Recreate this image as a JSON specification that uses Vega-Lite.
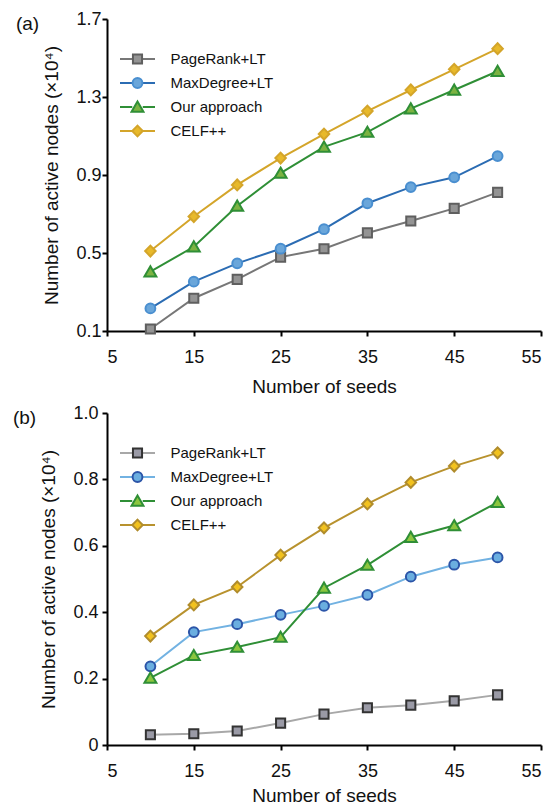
{
  "$schema": "https://vega.github.io/schema/vega-lite/v6.json",
  "padding": {"left": 12, "top": 10, "right": 5, "bottom": 2},
  "background": "white",
  "config": {
    "view": {"stroke": null},
    "font": "Liberation Sans",
    "axis": {"domainColor": "#000", "domainWidth": 2, "tickColor": "#000", "tickWidth": 2, "tickSize": 5, "labelFont": "Liberation Sans", "labelFontSize": 18, "labelColor": "#111", "titleFont": "Liberation Sans", "titleFontSize": 19, "titleFontWeight": "normal", "titleColor": "#111", "grid": false},
    "legend": {"labelFont": "Liberation Sans", "labelFontSize": 15, "labelColor": "#111", "padding": 0, "title": null, "orient": "none", "legendX": 12, "legendY": 32, "symbolSize": 1225, "symbolStrokeWidth": 2, "clipHeight": 16, "rowPadding": 8, "labelOffset": 14.5}
  },
  "datasets": {
    "a": [
      {"x": 10, "y": 0.11, "method": "PageRank+LT"}, {"x": 15, "y": 0.268, "method": "PageRank+LT"}, {"x": 20, "y": 0.365, "method": "PageRank+LT"}, {"x": 25, "y": 0.479, "method": "PageRank+LT"}, {"x": 30, "y": 0.522, "method": "PageRank+LT"}, {"x": 35, "y": 0.603, "method": "PageRank+LT"}, {"x": 40, "y": 0.664, "method": "PageRank+LT"}, {"x": 45, "y": 0.729, "method": "PageRank+LT"}, {"x": 50, "y": 0.811, "method": "PageRank+LT"},
      {"x": 10, "y": 0.216, "method": "MaxDegree+LT"}, {"x": 15, "y": 0.353, "method": "MaxDegree+LT"}, {"x": 20, "y": 0.447, "method": "MaxDegree+LT"}, {"x": 25, "y": 0.522, "method": "MaxDegree+LT"}, {"x": 30, "y": 0.622, "method": "MaxDegree+LT"}, {"x": 35, "y": 0.755, "method": "MaxDegree+LT"}, {"x": 40, "y": 0.838, "method": "MaxDegree+LT"}, {"x": 45, "y": 0.888, "method": "MaxDegree+LT"}, {"x": 50, "y": 0.997, "method": "MaxDegree+LT"},
      {"x": 10, "y": 0.404, "method": "Our approach"}, {"x": 15, "y": 0.532, "method": "Our approach"}, {"x": 20, "y": 0.741, "method": "Our approach"}, {"x": 25, "y": 0.91, "method": "Our approach"}, {"x": 30, "y": 1.044, "method": "Our approach"}, {"x": 35, "y": 1.12, "method": "Our approach"}, {"x": 40, "y": 1.24, "method": "Our approach"}, {"x": 45, "y": 1.336, "method": "Our approach"}, {"x": 50, "y": 1.432, "method": "Our approach"},
      {"x": 10, "y": 0.51, "method": "CELF++"}, {"x": 15, "y": 0.687, "method": "CELF++"}, {"x": 20, "y": 0.849, "method": "CELF++"}, {"x": 25, "y": 0.987, "method": "CELF++"}, {"x": 30, "y": 1.11, "method": "CELF++"}, {"x": 35, "y": 1.228, "method": "CELF++"}, {"x": 40, "y": 1.336, "method": "CELF++"}, {"x": 45, "y": 1.442, "method": "CELF++"}, {"x": 50, "y": 1.548, "method": "CELF++"}
    ],
    "b": [
      {"x": 10, "y": 0.031, "method": "PageRank+LT"}, {"x": 15, "y": 0.034, "method": "PageRank+LT"}, {"x": 20, "y": 0.042, "method": "PageRank+LT"}, {"x": 25, "y": 0.066, "method": "PageRank+LT"}, {"x": 30, "y": 0.093, "method": "PageRank+LT"}, {"x": 35, "y": 0.112, "method": "PageRank+LT"}, {"x": 40, "y": 0.12, "method": "PageRank+LT"}, {"x": 45, "y": 0.133, "method": "PageRank+LT"}, {"x": 50, "y": 0.151, "method": "PageRank+LT"},
      {"x": 10, "y": 0.237, "method": "MaxDegree+LT"}, {"x": 15, "y": 0.34, "method": "MaxDegree+LT"}, {"x": 20, "y": 0.364, "method": "MaxDegree+LT"}, {"x": 25, "y": 0.392, "method": "MaxDegree+LT"}, {"x": 30, "y": 0.419, "method": "MaxDegree+LT"}, {"x": 35, "y": 0.452, "method": "MaxDegree+LT"}, {"x": 40, "y": 0.507, "method": "MaxDegree+LT"}, {"x": 45, "y": 0.543, "method": "MaxDegree+LT"}, {"x": 50, "y": 0.565, "method": "MaxDegree+LT"},
      {"x": 10, "y": 0.202, "method": "Our approach"}, {"x": 15, "y": 0.27, "method": "Our approach"}, {"x": 20, "y": 0.295, "method": "Our approach"}, {"x": 25, "y": 0.325, "method": "Our approach"}, {"x": 30, "y": 0.473, "method": "Our approach"}, {"x": 35, "y": 0.542, "method": "Our approach"}, {"x": 40, "y": 0.626, "method": "Our approach"}, {"x": 45, "y": 0.661, "method": "Our approach"}, {"x": 50, "y": 0.731, "method": "Our approach"},
      {"x": 10, "y": 0.328, "method": "CELF++"}, {"x": 15, "y": 0.422, "method": "CELF++"}, {"x": 20, "y": 0.476, "method": "CELF++"}, {"x": 25, "y": 0.572, "method": "CELF++"}, {"x": 30, "y": 0.654, "method": "CELF++"}, {"x": 35, "y": 0.726, "method": "CELF++"}, {"x": 40, "y": 0.791, "method": "CELF++"}, {"x": 45, "y": 0.84, "method": "CELF++"}, {"x": 50, "y": 0.88, "method": "CELF++"}
    ]
  },
  "spacing": 8,
  "resolve": {
    "scale": {"color": "independent", "fill": "independent", "stroke": "independent", "shape": "independent"},
    "legend": {"color": "independent", "fill": "independent", "stroke": "independent", "shape": "independent"}
  },
  "vconcat": [
    {
      "width": 434,
      "height": 312,
      "title": {"text": "(a)", "anchor": "start", "frame": "bounds", "fontSize": 19, "fontWeight": "normal", "font": "Liberation Sans", "color": "#111", "dx": -27, "offset": -18, "dy": 21, "baseline": "alphabetic"},
      "data": {"name": "a"},
      "layer": [
        {
          "mark": {"type": "line", "strokeWidth": 2},
          "encoding": {
            "x": {"field": "x", "type": "quantitative", "scale": {"domain": [5, 55], "nice": false}, "axis": {"values": [5, 15, 25, 35, 45, 55], "title": "Number of seeds", "labelPadding": 12, "titlePadding": 11}},
            "y": {"field": "y", "type": "quantitative", "scale": {"domain": [0.1, 1.7], "nice": false, "zero": false}, "axis": {"values": [0.1, 0.5, 0.9, 1.3, 1.7], "format": ".1f", "title": "Number of active nodes (×10⁴)", "labelPadding": 1, "titlePadding": 14}},
            "color": {
              "field": "method", "type": "nominal",
              "scale": {"domain": ["PageRank+LT", "MaxDegree+LT", "Our approach", "CELF++"], "range": ["#777777", "#2b6cb3", "#2f8f36", "#d4a52a"]},
              "legend": {"symbolType": "M-1,0H-0.3M0.3,0H1"}
            }
          }
        },
        {
          "mark": {"type": "point", "filled": true, "size": 1225, "strokeWidth": 2, "opacity": 1},
          "encoding": {
            "x": {"field": "x", "type": "quantitative"},
            "y": {"field": "y", "type": "quantitative"},
            "shape": {
              "field": "method", "type": "nominal",
              "scale": {"domain": ["PageRank+LT", "MaxDegree+LT", "Our approach", "CELF++", "zz"], "range": [
                "M-0.26,-0.26H0.26V0.26H-0.26Z",
                "M0.28,0C0.28,0.1546,0.1546,0.28,0,0.28C-0.1546,0.28,-0.28,0.1546,-0.28,0C-0.28,-0.1546,-0.1546,-0.28,0,-0.28C0.1546,-0.28,0.28,-0.1546,0.28,0Z",
                "M0,-0.31L0.34,0.27L-0.34,0.27Z",
                "M0,-0.31L0.3,0L0,0.31L-0.3,0Z",
                "circle"]},
              "legend": {"values": ["PageRank+LT", "MaxDegree+LT", "Our approach", "CELF++"], "labelOpacity": 0}
            },
            "fill": {
              "field": "method", "type": "nominal",
              "scale": {"domain": ["PageRank+LT", "MaxDegree+LT", "Our approach", "CELF++", "zz"], "range": ["#949494", "#6aa6da", "#7cb342", "#e8b92a", "#000000"]},
              "legend": {"values": ["PageRank+LT", "MaxDegree+LT", "Our approach", "CELF++"], "labelOpacity": 0}
            },
            "stroke": {
              "field": "method", "type": "nominal",
              "scale": {"domain": ["PageRank+LT", "MaxDegree+LT", "Our approach", "CELF++", "zz"], "range": ["#5f5f5f", "#4a8fd0", "#2f8f36", "#d4a52a", "#000000"]},
              "legend": {"values": ["PageRank+LT", "MaxDegree+LT", "Our approach", "CELF++"], "labelOpacity": 0}
            }
          }
        }
      ]
    },
    {
      "width": 434,
      "height": 332,
      "title": {"text": "(b)", "anchor": "start", "frame": "bounds", "fontSize": 19, "fontWeight": "normal", "font": "Liberation Sans", "color": "#111", "dx": -27, "offset": -18, "dy": 21, "baseline": "alphabetic"},
      "data": {"name": "b"},
      "layer": [
        {
          "mark": {"type": "line", "strokeWidth": 2},
          "encoding": {
            "x": {"field": "x", "type": "quantitative", "scale": {"domain": [5, 55], "nice": false}, "axis": {"values": [5, 15, 25, 35, 45, 55], "title": "Number of seeds", "labelPadding": 12, "titlePadding": 6}},
            "y": {"field": "y", "type": "quantitative", "scale": {"domain": [0, 1.0], "nice": false}, "axis": {"values": [0, 0.2, 0.4, 0.6, 0.8, 1.0], "labelExpr": "datum.value===0?'0':format(datum.value,'.1f')", "title": "Number of active nodes (×10⁴)", "labelPadding": 4, "titlePadding": 14}},
            "color": {
              "field": "method", "type": "nominal",
              "scale": {"domain": ["PageRank+LT", "MaxDegree+LT", "Our approach", "CELF++"], "range": ["#a8a8a8", "#72b2e2", "#2f8f36", "#b8922e"]},
              "legend": {"symbolType": "M-1,0H-0.3M0.3,0H1"}
            }
          }
        },
        {
          "mark": {"type": "point", "filled": true, "size": 1225, "strokeWidth": 2, "opacity": 1},
          "encoding": {
            "x": {"field": "x", "type": "quantitative"},
            "y": {"field": "y", "type": "quantitative"},
            "shape": {
              "field": "method", "type": "nominal",
              "scale": {"domain": ["PageRank+LT", "MaxDegree+LT", "Our approach", "CELF++", "zz"], "range": [
                "M-0.26,-0.26H0.26V0.26H-0.26Z",
                "M0.28,0C0.28,0.1546,0.1546,0.28,0,0.28C-0.1546,0.28,-0.28,0.1546,-0.28,0C-0.28,-0.1546,-0.1546,-0.28,0,-0.28C0.1546,-0.28,0.28,-0.1546,0.28,0Z",
                "M0,-0.31L0.34,0.27L-0.34,0.27Z",
                "M0,-0.31L0.3,0L0,0.31L-0.3,0Z",
                "circle"]},
              "legend": {"values": ["PageRank+LT", "MaxDegree+LT", "Our approach", "CELF++"], "labelOpacity": 0}
            },
            "fill": {
              "field": "method", "type": "nominal",
              "scale": {"domain": ["PageRank+LT", "MaxDegree+LT", "Our approach", "CELF++", "zz"], "range": ["#9a9aa6", "#6aaee0", "#8cc63f", "#f2c21e", "#000000"]},
              "legend": {"values": ["PageRank+LT", "MaxDegree+LT", "Our approach", "CELF++"], "labelOpacity": 0}
            },
            "stroke": {
              "field": "method", "type": "nominal",
              "scale": {"domain": ["PageRank+LT", "MaxDegree+LT", "Our approach", "CELF++", "zz"], "range": ["#333333", "#2c55a8", "#2f8f36", "#b08c2c", "#000000"]},
              "legend": {"values": ["PageRank+LT", "MaxDegree+LT", "Our approach", "CELF++"], "labelOpacity": 0}
            }
          }
        }
      ]
    }
  ]
}
